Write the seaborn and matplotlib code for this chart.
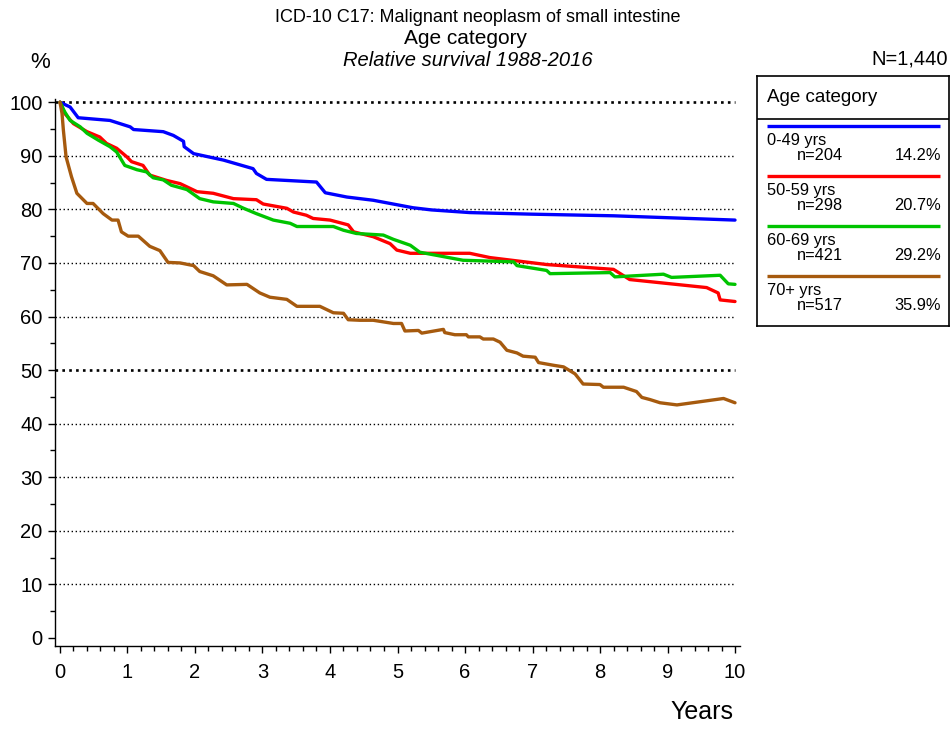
import matplotlib
matplotlib.use("Agg")
import matplotlib.pyplot as plt
from matplotlib.ticker import MultipleLocator
import numpy as np
import pandas as pd
import seaborn as sns

# Relative survival curves by age group (years since diagnosis, % survival)
age_groups = ["0-49 yrs", "50-59 yrs", "60-69 yrs", "70+ yrs"]
group_n = [204, 298, 421, 517]
group_share = ["14.2%", "20.7%", "29.2%", "35.9%"]
line_colors = ["#0000FF", "#FF0000", "#00C400", "#A65A0E"]

years_0_49 = [0, 0.15, 0.27, 0.74, 1.04, 1.09, 1.53, 1.68, 1.83, 1.84, 1.98, 2.42,
              2.86, 2.91, 3.06, 3.80, 3.93, 4.25, 4.64, 5.23, 5.5, 6.07, 7.0, 8.2, 10.0]
surv_0_49 = [100, 99.1, 97.1, 96.6, 95.4, 94.9, 94.5, 93.8, 92.7, 91.7, 90.4, 89.2,
             87.6, 86.7, 85.6, 85.1, 83.1, 82.3, 81.7, 80.3, 79.9, 79.4, 79.1, 78.8, 78.0]

years_50_59 = [0, 0.07, 0.2, 0.4, 0.59, 0.69, 0.84, 0.99, 1.06, 1.23, 1.33, 1.58, 1.78,
               2.03, 2.27, 2.57, 2.91, 3.01, 3.36, 3.46, 3.65, 3.75, 4.0, 4.27, 4.35,
               4.64, 4.89, 4.99, 5.19, 6.07, 6.37, 7.21, 8.2, 8.44, 9.58, 9.75, 9.78, 10.0]
surv_50_59 = [100, 97.9, 96.0, 94.5, 93.5, 92.3, 91.4, 89.8, 88.9, 88.2, 86.4, 85.4, 84.8,
              83.3, 83.0, 82.0, 81.8, 81.0, 80.2, 79.5, 78.9, 78.3, 78.0, 77.1, 75.8,
              74.9, 73.6, 72.4, 71.8, 71.8, 71.0, 69.7, 68.8, 66.9, 65.4, 64.4, 63.1, 62.8]

years_60_69 = [0, 0.07, 0.15, 0.3, 0.4, 0.57, 0.74, 0.84, 0.96, 1.14, 1.28, 1.38, 1.53,
               1.65, 1.88, 2.07, 2.27, 2.57, 2.72, 2.91, 3.16, 3.41, 3.51, 4.05, 4.2,
               4.39, 4.79, 4.94, 5.19, 5.33, 5.63, 5.97, 6.72, 6.77, 7.21, 7.26, 8.15,
               8.22, 8.94, 9.06, 9.78, 9.9, 10.0]
surv_60_69 = [100, 98.2, 96.6, 95.4, 94.2, 92.9, 91.7, 90.7, 88.2, 87.4, 87.0, 85.9, 85.5,
              84.5, 83.7, 82.0, 81.4, 81.1, 80.2, 79.2, 78.0, 77.4, 76.8, 76.8, 76.1,
              75.5, 75.2, 74.4, 73.3, 72.0, 71.3, 70.5, 70.2, 69.5, 68.6, 68.0, 68.2,
              67.4, 67.9, 67.3, 67.7, 66.1, 66.0]

years_70 = [0, 0.03, 0.05, 0.09, 0.17, 0.25, 0.4, 0.49, 0.64, 0.77, 0.86, 0.91, 1.01,
            1.16, 1.33, 1.48, 1.6, 1.78, 1.98, 2.07, 2.27, 2.47, 2.77, 2.96, 3.11, 3.36,
            3.51, 3.85, 4.05, 4.2, 4.27, 4.44, 4.64, 4.94, 5.06, 5.11, 5.31, 5.36, 5.68,
            5.70, 5.85, 6.02, 6.05, 6.22, 6.27, 6.42, 6.52, 6.62, 6.77, 6.86, 7.04, 7.09,
            7.31, 7.46, 7.63, 7.75, 8.0, 8.05, 8.35, 8.54, 8.62, 8.74, 8.89, 9.14, 9.83,
            10.0]
surv_70 = [100, 97.9, 94.8, 89.8, 86.1, 83.0, 81.1, 81.1, 79.2, 78.0, 78.0, 75.8, 75.0,
           75.0, 73.1, 72.3, 70.1, 70.0, 69.5, 68.4, 67.6, 65.9, 66.0, 64.4, 63.6, 63.2,
           61.9, 61.9, 60.7, 60.6, 59.4, 59.3, 59.3, 58.7, 58.7, 57.3, 57.4, 56.9, 57.6,
           57.0, 56.6, 56.6, 56.2, 56.2, 55.8, 55.8, 55.2, 53.7, 53.2, 52.6, 52.4, 51.4,
           50.9, 50.6, 49.3, 47.4, 47.3, 46.8, 46.8, 46.0, 44.9, 44.5, 43.9, 43.5, 44.7,
           43.9]

all_years = [years_0_49, years_50_59, years_60_69, years_70]
all_surv = [surv_0_49, surv_50_59, surv_60_69, surv_70]

frames = [pd.DataFrame({"Years": yr, "Survival": sv, "Group": g})
          for yr, sv, g in zip(all_years, all_surv, age_groups)]
df = pd.concat(frames, ignore_index=True)

sns.set_theme(style="white")
plt.rcParams["font.family"] = ["Liberation Sans", "DejaVu Sans"]
plt.rcParams["text.color"] = "black"
plt.rcParams["xtick.color"] = "black"
plt.rcParams["ytick.color"] = "black"

W, H = 952, 729
fig = plt.figure(figsize=(W / 100, H / 100), dpi=100)

# axes box in pixels: left 55, right 740, top 99, bottom 646
ax = fig.add_axes([55 / W, 1 - 646 / H, 685 / W, (646 - 99) / H])
ax.set_xlim(-0.074, 10.074)
ax.set_ylim(-1.5, 100.6)

# dotted reference lines; 50 % and 100 % drawn heavier
for level in range(10, 101, 10):
    heavy = level in (50, 100)
    ax.hlines(level, -0.074, 10.0, colors="black",
              linewidth=1.9 if heavy else 1.0,
              linestyles=(0, (1, 1.6)) if heavy else (0, (1, 1.9)), zorder=1)

sns.lineplot(data=df, x="Years", y="Survival", hue="Group", hue_order=age_groups,
             palette=line_colors, estimator=None, sort=False, linewidth=2.4,
             legend=False, ax=ax, zorder=3)

for side in ("top", "right"):
    ax.spines[side].set_visible(False)
for side in ("left", "bottom"):
    ax.spines[side].set_color("black")
    ax.spines[side].set_linewidth(1.0)

ax.set_xticks(range(0, 11))
ax.set_yticks(range(0, 101, 10))
ax.xaxis.set_minor_locator(MultipleLocator(0.2))
ax.yaxis.set_minor_locator(MultipleLocator(5))
ax.tick_params(axis="both", which="major", direction="out", length=5, width=1,
               color="black", labelsize=14.5, labelcolor="black", bottom=True, left=True)
ax.tick_params(axis="both", which="minor", direction="out", length=3.5, width=1,
               color="black", bottom=True, left=True)
ax.tick_params(axis="x", which="major", pad=7)
ax.tick_params(axis="y", which="major", pad=4)
ax.set_xlabel("")
ax.set_ylabel("")
ax.grid(False)

def fx(px):
    return px / W

def fy(py):
    return 1 - py / H

fig.text(fx(478), fy(17), "ICD-10 C17: Malignant neoplasm of small intestine",
         ha="center", va="center", fontsize=13)
fig.text(fx(465), fy(38), "Age category", ha="center", va="center", fontsize=15)
fig.text(fx(468), fy(60), "Relative survival 1988-2016", ha="center", va="center",
         fontsize=14.5, style="italic")
fig.text(fx(40), fy(63), "%", ha="center", va="center", fontsize=16)
fig.text(fx(948), fy(59), "N=1,440", ha="right", va="center", fontsize=14.5)
fig.text(fx(702), fy(712), "Years", ha="center", va="center", fontsize=18)

# legend panel
box_l, box_r, box_t, box_b, head_b = 757, 949, 76, 326, 119
lax = fig.add_axes([box_l / W, 1 - box_b / H, (box_r - box_l) / W, (box_b - box_t) / H])
lax.set_xlim(box_l, box_r)
lax.set_ylim(box_b, box_t)
lax.set_xticks([])
lax.set_yticks([])
for s in lax.spines.values():
    s.set_color("black")
    s.set_linewidth(1.2)
lax.set_facecolor("white")
lax.axhline(head_b, color="black", linewidth=1.2)
lax.text(767, 97, "Age category", ha="left", va="center", fontsize=13.5)
line_ys = [126, 176, 226, 276]
for g, n, share, c, y0 in zip(age_groups, group_n, group_share, line_colors, line_ys):
    lax.plot([767, 940], [y0, y0], color=c, linewidth=2.4, solid_capstyle="butt")
    lax.text(767, y0 + 15, g, ha="left", va="center", fontsize=11.8)
    lax.text(797, y0 + 29, f"n={n}", ha="left", va="center", fontsize=11.8)
    lax.text(941, y0 + 29, share, ha="right", va="center", fontsize=11.8)

fig.savefig("out.png", dpi=100, facecolor="white")
